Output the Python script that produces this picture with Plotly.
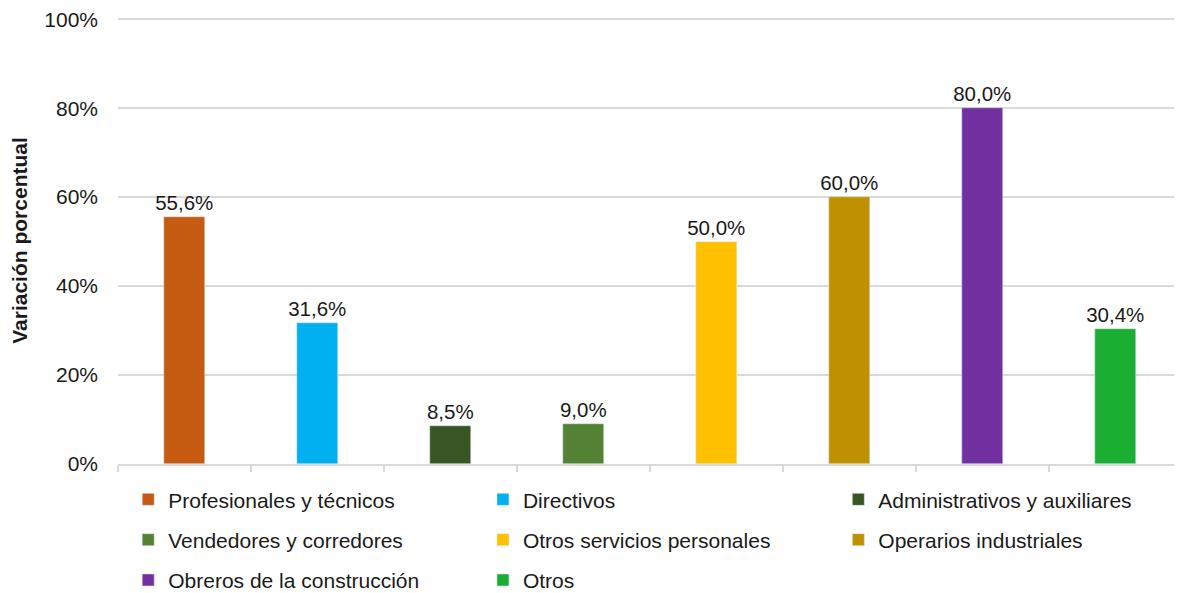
import plotly.graph_objects as go

categorias = ['Profesionales y técnicos', 'Directivos', 'Administrativos y auxiliares',
              'Vendedores y corredores', 'Otros servicios personales', 'Operarios industriales',
              'Obreros de la construcción', 'Otros']
variacion = [0.556, 0.316, 0.085, 0.090, 0.500, 0.600, 0.800, 0.304]
colores = ['#C55A11', '#00B0F0', '#375623', '#548235', '#FFC000', '#BF9000', '#7030A0', '#1AAF32']
ticks_y = [0, 0.2, 0.4, 0.6, 0.8, 1.0]

fuente = 'Liberation Sans, Arial, sans-serif'
leyendas = ['legend', 'legend2', 'legend3']

fig = go.Figure()
for i, (cat, val, col) in enumerate(zip(categorias, variacion, colores)):
    etiqueta = f'{val*100:.1f}%'.replace('.', ',')
    fig.add_trace(go.Bar(
        x=[cat], y=[val], name=cat,
        marker_color=col, width=0.315,
        text=[etiqueta], textposition='outside', cliponaxis=False,
        constraintext='none',
        textfont=dict(size=20.5, color='#1a1a1a'),
        legend=leyendas[i % 3], legendgroup=cat,
    ))

leg = dict(orientation='v', y=-0.034, yanchor='top', xanchor='left',
           font=dict(size=21, color='#1a1a1a', family=fuente),
           itemwidth=30, tracegroupgap=10, traceorder='grouped',
           bgcolor='rgba(0,0,0,0)')

# the page body adds an 8px margin, so the figure is 8px smaller on each side
fig.update_layout(
    width=1174, height=585,
    margin=dict(l=110, r=0, t=9, b=129, autoexpand=False),
    plot_bgcolor='white', paper_bgcolor='white',
    font=dict(family=fuente, size=21, color='#1a1a1a'),
    barmode='overlay',
    bargap=0,
    legend=dict(leg, x=0.0096),
    legend2=dict(leg, x=0.343),
    legend3=dict(leg, x=0.677),
)
fig.update_xaxes(
    categoryorder='array', categoryarray=categorias,
    showticklabels=False, ticks='outside', tickson='boundaries',
    ticklen=6, tickcolor='#d9d9d9', tickwidth=2,
    showline=True, linecolor='#d9d9d9', linewidth=2,
    showgrid=False, range=[-0.5, 7.5],
)
fig.update_yaxes(
    range=[0, 1.005], tickvals=ticks_y, tickformat='.0%',
    showgrid=True, gridcolor='#d9d9d9', gridwidth=2,
    zeroline=False, ticks='', tickfont=dict(size=21),
    ticklabelstandoff=19, ticklabeloverflow='allow',
    title=dict(text='<b>Variación porcentual</b>', font=dict(size=21), standoff=23),
)

fig.write_html('out.html')
